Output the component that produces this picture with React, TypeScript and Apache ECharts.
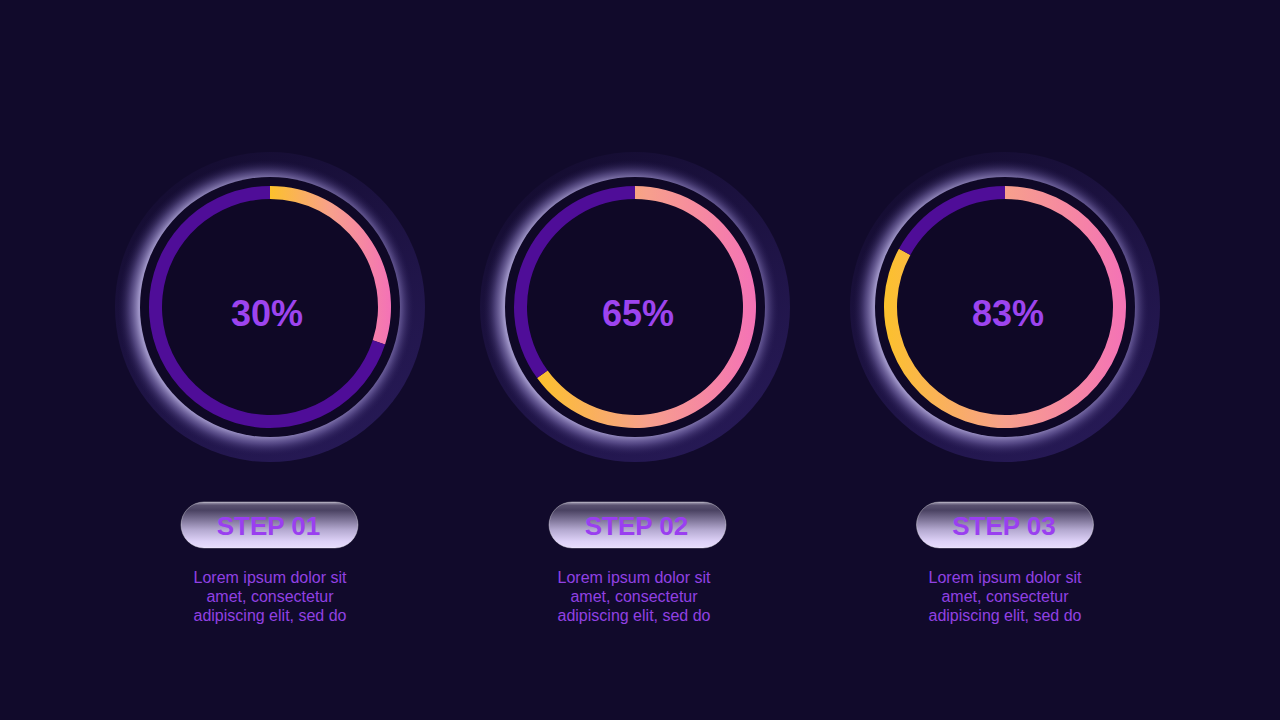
import React, { useEffect, useRef } from "react";
import * as echarts from "echarts";

const steps = ["STEP 01", "STEP 02", "STEP 03"];
const percents = [30, 65, 83];
const descLines = ["Lorem ipsum dolor sit", "amet, consectetur", "adipiscing elit, sed do"];

const ringX = [270, 635, 1005];
const ringY = 307;
const pctX = [267, 638, 1008];
const pillX = [269.5, 637.5, 1005];
const descX = [270, 634, 1005];

const FONT = "'Liberation Sans', Arial, sans-serif";
const BG = "#110a2b";

export default function App() {
  const ref = useRef<HTMLDivElement>(null);
  useEffect(() => {
    if (!ref.current) return;
    const chart = echarts.init(ref.current, null, { renderer: "svg" });
    const graphics: any[] = [];
    ringX.forEach((cx, i) => {
      graphics.push({
        type: "circle",
        z: 0,
        silent: true,
        shape: { cx, cy: ringY, r: 155 },
        style: {
          fill: new echarts.graphic.LinearGradient(0.2, 0, 0.8, 1, [
            { offset: 0, color: "#140c30" },
            { offset: 1, color: "#271a57" },
          ]),
        },
      });
      graphics.push({
        type: "circle",
        z: 1,
        silent: true,
        shape: { cx: cx - 4, cy: ringY + 1, r: 148 },
        style: {
          fill: new echarts.graphic.RadialGradient(0.5, 0.5, 0.5, [
            { offset: 0, color: "rgba(170,160,210,1)" },
            { offset: 0.86, color: "rgba(165,155,206,0.95)" },
            { offset: 0.92, color: "rgba(120,106,172,0.55)" },
            { offset: 1, color: "rgba(40,28,85,0)" },
          ]),
        },
      });
      graphics.push({
        type: "circle",
        z: 2,
        silent: true,
        shape: { cx, cy: ringY, r: 130 },
        style: { fill: "#0f0826" },
      });
      graphics.push({
        type: "text",
        z: 10,
        silent: true,
        x: pctX[i],
        y: 313,
        style: {
          text: `${percents[i]}%`,
          fill: "#9d44ef",
          font: `bold 36px ${FONT}`,
          align: "center",
          verticalAlign: "middle",
        },
      });
      graphics.push({
        type: "rect",
        z: 3,
        silent: true,
        shape: { x: pillX[i] - 88.5, y: 502, width: 177, height: 46, r: 23 },
        style: {
          fill: new echarts.graphic.LinearGradient(0, 0, 0, 1, [
            { offset: 0, color: "#a9a3b8" },
            { offset: 0.07, color: "#5a5270" },
            { offset: 0.18, color: "#4a4262" },
            { offset: 0.6, color: "#b3a8cf" },
            { offset: 0.85, color: "#ddd1f7" },
            { offset: 1, color: "#e8ddfd" },
          ]),
          stroke: "rgba(255,255,255,0.35)",
          lineWidth: 1,
        },
      });
      graphics.push({
        type: "text",
        z: 10,
        silent: true,
        x: pillX[i] - 1,
        y: 526,
        style: {
          text: steps[i],
          fill: "#9a3ff0",
          font: `bold 26px ${FONT}`,
          align: "center",
          verticalAlign: "middle",
        },
      });
      graphics.push({
        type: "text",
        z: 10,
        silent: true,
        x: descX[i],
        y: 568,
        style: {
          text: descLines.join("\n"),
          fill: "#9141e3",
          font: `16px ${FONT}`,
          lineHeight: 19,
          align: "center",
          verticalAlign: "top",
        },
      });
    });

    const series = ringX.map((cx, i) => ({
      type: "pie",
      z: 5,
      center: [cx, ringY],
      radius: [108, 121],
      startAngle: 90,
      clockwise: true,
      silent: true,
      label: { show: false },
      labelLine: { show: false },
      emphasis: { disabled: true },
      data: [
        {
          value: percents[i],
          itemStyle: {
            color: new echarts.graphic.LinearGradient(0, 0, 1, 0, [
              { offset: 0, color: "#fcc12c" },
              { offset: 0.5, color: "#f7a08c" },
              { offset: 1, color: "#f472b6" },
            ]),
          },
        },
        { value: 100 - percents[i], itemStyle: { color: "#4f0d98" } },
      ],
    }));

    chart.setOption({
      animation: false,
      backgroundColor: BG,
      graphic: { elements: graphics },
      series,
    });
    return () => chart.dispose();
  }, []);
  return (
    <div
      ref={ref}
      style={{ position: "absolute", left: 0, top: 0, width: 1280, height: 720 }}
    />
  );
}
